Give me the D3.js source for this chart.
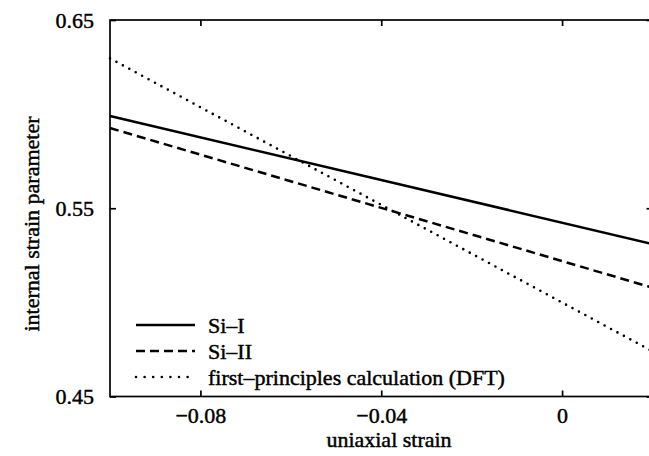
<!DOCTYPE html>
<html lang="en">
<head>
<meta charset="UTF-8">
<title>Internal strain parameter</title>
<script src="https://d3js.org/d3.v7.min.js"></script>
<style>
    body { margin: 0; background: #fff; }
    svg { display: block; }
    /* the original print looks a bit heavier than plain Times */
    svg text { stroke: #000; stroke-width: 0.45px; }
</style>
</head>
<body>
<svg id="chart" width="649" height="456"></svg>
<script>
// strain range shown and the three linear fits (values at left and right ends)
const strainDomain = [-0.1, 0.02];
const paramDomain = [0.45, 0.65];
const xTicks = [-0.08, -0.04, 0];
const yTicks = [0.45, 0.55, 0.65];

const strainPoints = [-0.1, 0.02];
const siI = [0.599, 0.531];
const siII = [0.5926, 0.5078];
const dft = [0.6296, 0.4740];

const seriesNames = ["Si\u2013I", "Si\u2013II", "first\u2013principles calculation (DFT)"];
const seriesValues = [siI, siII, dft];

const FONT = "'Liberation Serif', 'DejaVu Serif', serif";

// line styles per series
const styles = [
    { width: 2.5, dash: null, cap: "butt" },
    { width: 2.5, dash: "9,5", cap: "butt" },
    { width: 2.6, dash: "0,7.3", cap: "round" }
];

const svg = d3.select("#chart");
const margin = { left: 110, top: 20, right: 652.5, bottom: 396.5 };

const x = d3.scaleLinear().domain(strainDomain).range([margin.left, margin.right]);
const y = d3.scaleLinear().domain(paramDomain).range([margin.bottom, margin.top]);

// frame
svg.append("rect")
    .attr("x", margin.left).attr("y", margin.top)
    .attr("width", margin.right - margin.left).attr("height", margin.bottom - margin.top)
    .attr("fill", "none").attr("stroke", "#000").attr("stroke-width", 1.7);

const fmt = d => d === 0 ? "0" : d3.format(".2f")(d).replace("-", "\u2013");

// bottom axis (ticks inward)
const xAxis = svg.append("g")
    .attr("transform", `translate(0,${margin.bottom})`)
    .call(d3.axisBottom(x).tickValues(xTicks).tickSize(-6).tickPadding(11).tickFormat(fmt));

// top ticks
const xTop = svg.append("g")
    .attr("transform", `translate(0,${margin.top})`)
    .call(d3.axisTop(x).tickValues(xTicks).tickSize(-6).tickFormat(""));

// left axis
const yAxis = svg.append("g")
    .attr("transform", `translate(${margin.left},0)`)
    .call(d3.axisLeft(y).tickValues(yTicks).tickSize(-6).tickPadding(16).tickFormat(d3.format(".2f")));

// right ticks
const yRight = svg.append("g")
    .attr("transform", `translate(${margin.right},0)`)
    .call(d3.axisRight(y).tickValues(yTicks).tickSize(-6).tickFormat(""));

[xAxis, xTop, yAxis, yRight].forEach(g => {
    g.select(".domain").remove();
    g.selectAll(".tick line").attr("stroke-width", 1.7);
    g.attr("font-family", FONT).attr("font-size", 22);
    g.selectAll(".tick text").attr("fill", "#000");
});

// axis titles
svg.append("text")
    .attr("x", 389).attr("y", 447)
    .attr("text-anchor", "middle")
    .attr("font-family", FONT).attr("font-size", 22)
    .text("uniaxial strain");
svg.append("text")
    .attr("transform", "translate(39,224) rotate(-90)")
    .attr("text-anchor", "middle")
    .attr("font-family", FONT).attr("font-size", 22)
    .text("internal strain parameter");

// data lines
const line = d3.line().x(d => x(d[0])).y(d => y(d[1]));
seriesValues.forEach((vals, i) => {
    const pts = strainPoints.map((s, j) => [s, vals[j]]);
    svg.append("path")
        .datum(pts)
        .attr("d", line)
        .attr("fill", "none")
        .attr("stroke", "#000")
        .attr("stroke-width", styles[i].width)
        .attr("stroke-linecap", styles[i].cap)
        .attr("stroke-dasharray", styles[i].dash);
});

// legend
const legend = svg.append("g");
seriesNames.forEach((name, i) => {
    const ly = 325 + i * 26;
    legend.append("line")
        .attr("x1", 136).attr("x2", 195)
        .attr("y1", ly).attr("y2", ly)
        .attr("stroke", "#000")
        .attr("stroke-width", styles[i].width)
        .attr("stroke-linecap", styles[i].cap)
        .attr("stroke-dasharray", i === 2 ? "0,8.6" : styles[i].dash);
    legend.append("text")
        .attr("x", 208).attr("y", ly + 8)
        .attr("font-family", FONT).attr("font-size", 22)
        .text(name);
});
</script>
</body>
</html>
